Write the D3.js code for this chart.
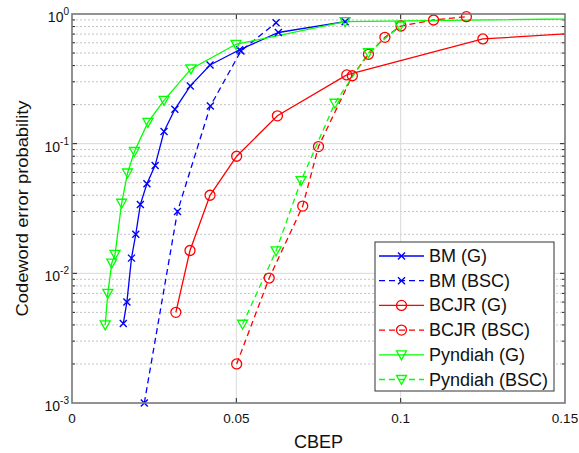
<!DOCTYPE html>
<html>
<head>
<meta charset="utf-8">
<script src="https://cdn.jsdelivr.net/npm/d3@7"></script>
<style>
  body { margin: 0; background: #fff; }
  text { font-family: "Liberation Sans", Arial, Helvetica, sans-serif; fill: #111; }
</style>
</head>
<body>
<svg id="chart" width="579" height="453"></svg>
<script>
// Axis ticks
const xTicks = [0, 0.05, 0.1, 0.15];
const xTickLabels = ["0", "0.05", "0.1", "0.15"];
const yDecadeExps = [0, -1, -2, -3];

// BM, Gaussian channel
const bmG_x = [0.0156, 0.0167, 0.0181, 0.0194, 0.0208, 0.0228, 0.0253, 0.028, 0.0313, 0.036, 0.042, 0.051, 0.0628, 0.0831];
const bmG_p = [0.0041, 0.006, 0.0131, 0.020, 0.034, 0.049, 0.068, 0.124, 0.184, 0.279, 0.404, 0.53, 0.72, 0.872];
// BM, binary symmetric channel
const bmB_x = [0.022, 0.0321, 0.0421, 0.0514, 0.0621];
const bmB_p = [0.001, 0.030, 0.195, 0.518, 0.857];
// BCJR, Gaussian channel
const bcjrG_x = [0.0316, 0.0359, 0.042, 0.0501, 0.0625, 0.0836, 0.125, 0.175];
const bcjrG_p = [0.005, 0.015, 0.040, 0.080, 0.164, 0.339, 0.642, 0.767];
// BCJR, binary symmetric channel
const bcjrB_x = [0.0501, 0.060, 0.0702, 0.075, 0.0853, 0.0902, 0.0952, 0.1001, 0.110, 0.120];
const bcjrB_p = [0.002, 0.0092, 0.033, 0.095, 0.334, 0.489, 0.661, 0.808, 0.899, 0.953];
// Pyndiah, Gaussian channel
const pyG_x = [0.0101, 0.0109, 0.0121, 0.0131, 0.0151, 0.0169, 0.019, 0.0231, 0.028, 0.0362, 0.0499, 0.0831, 0.2];
const pyG_p = [0.0040, 0.0070, 0.0120, 0.0140, 0.0347, 0.0594, 0.087, 0.146, 0.2155, 0.377, 0.584, 0.872, 0.948];
// Pyndiah, binary symmetric channel
const pyB_x = [0.0519, 0.0621, 0.0697, 0.080, 0.0902, 0.0998];
const pyB_p = [0.00405, 0.0149, 0.0519, 0.205, 0.503, 0.808];

const seriesNames = ["BM (G)", "BM (BSC)", "BCJR (G)", "BCJR (BSC)", "Pyndiah (G)", "Pyndiah (BSC)"];
const seriesColors = ["#0000ff", "#0000ff", "#ff0000", "#ff0000", "#00ff00", "#00ff00"];
const seriesMarkers = ["x", "x", "o", "o", "v", "v"];
const seriesDashed = [false, true, false, true, false, true];
const seriesX = [bmG_x, bmB_x, bcjrG_x, bcjrB_x, pyG_x, pyB_x];
const seriesP = [bmG_p, bmB_p, bcjrG_p, bcjrB_p, pyG_p, pyB_p];

const svg = d3.select("#chart");
const L = 72, R = 565, T = 14, B = 403;
const x = d3.scaleLinear().domain([0, 0.15]).range([L, R]);
const y = d3.scaleLog().domain([1e-3, 1]).range([B, T]);

svg.append("defs").append("clipPath").attr("id", "plotclip")
  .append("rect").attr("x", L).attr("y", T).attr("width", R - L).attr("height", B - T);

// grid: minor dotted, major solid
const minorVals = [];
for (let e = -3; e < 0; e++) for (let m = 2; m <= 9; m++) minorVals.push(m * Math.pow(10, e));
const grid = svg.append("g");
grid.selectAll("line.minor").data(minorVals).join("line")
  .attr("x1", L).attr("x2", R)
  .attr("y1", d => y(d)).attr("y2", d => y(d))
  .attr("stroke", "#c4c4c4").attr("stroke-width", 1).attr("stroke-dasharray", "2,2");
grid.selectAll("line.majy").data([1e-2, 1e-1]).join("line")
  .attr("x1", L).attr("x2", R)
  .attr("y1", d => y(d)).attr("y2", d => y(d))
  .attr("stroke", "#dadada").attr("stroke-width", 1);
grid.selectAll("line.majx").data([0.05, 0.1]).join("line")
  .attr("class", "majx")
  .attr("x1", d => x(d)).attr("x2", d => x(d))
  .attr("y1", T).attr("y2", B)
  .attr("stroke", "#dadada").attr("stroke-width", 1);

// tick marks (inside, on all four sides)
const ticks = svg.append("g").attr("stroke", "#222").attr("stroke-width", 1);
[0.05, 0.1].forEach(v => {
  ticks.append("line").attr("x1", x(v)).attr("x2", x(v)).attr("y1", B).attr("y2", B - 5);
  ticks.append("line").attr("x1", x(v)).attr("x2", x(v)).attr("y1", T).attr("y2", T + 5);
});
[1e-2, 1e-1].forEach(v => {
  ticks.append("line").attr("x1", L).attr("x2", L + 5).attr("y1", y(v)).attr("y2", y(v));
  ticks.append("line").attr("x1", R).attr("x2", R - 5).attr("y1", y(v)).attr("y2", y(v));
});
minorVals.forEach(v => {
  ticks.append("line").attr("x1", L).attr("x2", L + 3).attr("y1", y(v)).attr("y2", y(v));
  ticks.append("line").attr("x1", R).attr("x2", R - 3).attr("y1", y(v)).attr("y2", y(v));
});

// marker shapes
function drawMarker(g, kind, color, cx, cy) {
  if (kind === "x") {
    const s = 3.5;
    g.append("path").attr("d", `M${cx - s},${cy - s}L${cx + s},${cy + s}M${cx - s},${cy + s}L${cx + s},${cy - s}`)
      .attr("stroke", color).attr("stroke-width", 1.4).attr("fill", "none");
  } else if (kind === "o") {
    g.append("circle").attr("cx", cx).attr("cy", cy).attr("r", 5)
      .attr("stroke", color).attr("stroke-width", 1.3).attr("fill", "none");
  } else {
    g.append("path").attr("d", `M${cx - 5},${cy - 4}L${cx + 5},${cy - 4}L${cx},${cy + 5}Z`)
      .attr("stroke", color).attr("stroke-width", 1.3).attr("fill", "none");
  }
}

// series
const lineGen = d3.line().x(d => x(d[0])).y(d => y(d[1]));
const plot = svg.append("g").attr("clip-path", "url(#plotclip)");
seriesNames.forEach((name, i) => {
  const pts = seriesX[i].map((v, k) => [v, seriesP[i][k]]);
  plot.append("path").datum(pts).attr("d", lineGen)
    .attr("fill", "none").attr("stroke", seriesColors[i]).attr("stroke-width", 1.3)
    .attr("stroke-dasharray", seriesDashed[i] ? "6,4" : null);
});
seriesNames.forEach((name, i) => {
  seriesX[i].forEach((v, k) => {
    if (v <= 0.15) drawMarker(svg, seriesMarkers[i], seriesColors[i], x(v), y(seriesP[i][k]));
  });
});

// axes box
svg.append("rect").attr("x", L).attr("y", T).attr("width", R - L).attr("height", B - T)
  .attr("fill", "none").attr("stroke", "#777").attr("stroke-width", 1.6);

// tick labels
svg.selectAll("text.xt").data(xTicks).join("text")
  .attr("x", d => x(d)).attr("y", 423).attr("text-anchor", "middle")
  .attr("font-size", 13.5).text((d, i) => xTickLabels[i]);
yDecadeExps.forEach(e => {
  const t = svg.append("text").attr("x", 69).attr("y", y(Math.pow(10, e)) + 8)
    .attr("text-anchor", "end").attr("font-size", 14);
  t.append("tspan").text("10");
  t.append("tspan").attr("dy", -7).attr("font-size", 10).text(String(e));
});

// axis titles
svg.append("text").attr("x", (L + R) / 2).attr("y", 448).attr("text-anchor", "middle")
  .attr("font-size", 18).text("CBEP");
svg.append("text").attr("transform", `translate(28,${(T + B) / 2}) rotate(-90)`)
  .attr("text-anchor", "middle").attr("font-size", 17)
  .attr("textLength", 216).attr("lengthAdjust", "spacingAndGlyphs")
  .text("Codeword error probability");

// legend
const lg = svg.append("g");
const lx = 375, ly = 242, lw = 179, lh = 149, rowH = 24.7;
lg.append("rect").attr("x", lx).attr("y", ly).attr("width", lw).attr("height", lh)
  .attr("fill", "#fff").attr("stroke", "#333").attr("stroke-width", 1);
seriesNames.forEach((name, i) => {
  const cy = 256 + i * rowH;
  lg.append("line").attr("x1", 379).attr("x2", 424).attr("y1", cy).attr("y2", cy)
    .attr("stroke", seriesColors[i]).attr("stroke-width", 1.3)
    .attr("stroke-dasharray", seriesDashed[i] ? "6,4" : null);
  drawMarker(lg, seriesMarkers[i], seriesColors[i], 401.5, cy);
  lg.append("text").attr("x", 429).attr("y", cy + 6).attr("font-size", 18).text(name);
});
</script>
</body>
</html>
